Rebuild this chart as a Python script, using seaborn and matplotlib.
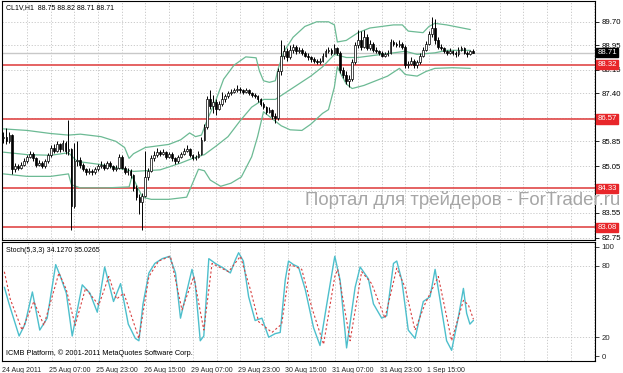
import numpy as np
import pandas as pd
import matplotlib
matplotlib.use("Agg")
import matplotlib.pyplot as plt
import matplotlib.transforms as mtransforms
import seaborn as sns

sns.set_style("white")
plt.rcParams['font.family'] = ['Liberation Sans', 'DejaVu Sans']

# ---------------- data ----------------
open_ = [85.95, 86.00, 85.85, 86.05, 84.95, 85.05, 85.00, 85.10, 85.20, 85.35,
         85.45, 85.30, 85.10, 85.15, 85.05, 85.20, 85.40, 85.65, 85.55, 85.75,
         85.60, 85.80, 85.55, 85.60, 83.75, 85.20, 85.25, 85.10, 84.95, 84.85,
         84.90, 84.85, 84.95, 85.05, 85.10, 85.00, 85.15, 85.05, 84.95, 85.00,
         85.35, 85.00, 84.85, 84.90, 84.75, 84.35, 84.05, 83.90, 84.10, 84.70,
         84.90, 85.30, 85.40, 85.50, 85.45, 85.50, 85.35, 85.45, 85.30, 85.20,
         85.35, 85.45, 85.55, 85.60, 85.40, 85.30, 85.35, 85.45, 85.90, 86.30,
         87.20, 87.00, 87.10, 86.90, 87.05, 87.20, 87.30, 87.40, 87.45, 87.50,
         87.55, 87.50, 87.45, 87.50, 87.40, 87.35, 87.30, 87.20, 87.05, 86.95,
         86.80, 86.85, 86.65, 86.60, 88.10, 88.60, 88.75, 88.55, 88.80, 88.90,
         88.75, 88.80, 88.70, 88.60, 88.55, 88.50, 88.45, 88.40, 88.45, 88.60,
         88.75, 88.80, 88.70, 88.85, 88.70, 88.15, 88.00, 87.80, 87.85, 88.40,
         88.95, 89.10, 88.90, 89.20, 88.85, 89.00, 88.80, 88.75, 88.70, 88.60,
         88.65, 88.70, 89.05, 89.00, 88.95, 89.00, 88.90, 88.30, 88.35, 88.45,
         88.30, 88.40, 88.60, 88.80, 89.00, 89.30, 89.50, 89.10, 88.90, 88.85,
         88.75, 88.70, 88.75, 88.70, 88.65, 88.80, 88.85, 88.70, 88.65, 88.75]
high = [86.15, 86.27, 86.15, 86.10, 85.15, 85.12, 85.18, 85.30, 85.42, 85.55,
        85.50, 85.35, 85.25, 85.20, 85.28, 85.48, 85.72, 85.75, 85.85, 85.80,
        85.88, 85.85, 86.55, 85.65, 85.80, 85.85, 85.35, 85.15, 85.00, 84.98,
        84.95, 85.02, 85.12, 85.20, 85.15, 85.22, 85.20, 85.10, 85.08, 85.45,
        85.40, 85.05, 84.98, 84.95, 84.80, 84.45, 84.15, 84.20, 85.55, 85.00,
        85.40, 85.55, 85.62, 85.58, 85.60, 85.55, 85.52, 85.50, 85.35, 85.42,
        85.52, 85.65, 85.72, 85.65, 85.45, 85.42, 85.55, 85.98, 86.40, 87.30,
        87.50, 87.35, 87.20, 87.15, 87.45, 87.38, 87.48, 87.52, 87.58, 87.65,
        87.60, 87.55, 87.58, 87.55, 87.45, 87.42, 87.35, 87.25, 87.10, 87.00,
        86.95, 86.90, 86.75, 88.20, 89.10, 88.95, 88.85, 88.95, 89.00, 88.95,
        88.88, 88.85, 88.75, 88.68, 88.60, 88.55, 88.50, 88.52, 88.68, 88.82,
        88.90, 88.85, 88.98, 88.90, 88.75, 88.25, 88.10, 88.00, 88.50, 89.05,
        89.45, 89.40, 89.45, 89.30, 89.10, 89.05, 88.88, 88.80, 88.75, 88.72,
        88.80, 89.15, 89.12, 89.05, 89.10, 89.05, 88.95, 88.45, 88.55, 88.50,
        88.48, 88.68, 88.88, 89.08, 89.40, 89.85, 89.80, 89.20, 88.98, 88.90,
        88.80, 88.85, 88.80, 88.75, 88.88, 88.92, 88.90, 88.75, 88.80, 88.82]
low = [85.80, 85.75, 85.80, 84.80, 84.85, 84.92, 84.95, 85.05, 85.15, 85.30,
       85.22, 85.02, 85.05, 84.98, 85.00, 85.15, 85.35, 85.48, 85.50, 85.52,
       85.55, 85.45, 85.40, 83.00, 83.70, 85.05, 85.00, 84.88, 84.78, 84.80,
       84.78, 84.80, 84.90, 85.00, 84.92, 84.95, 84.98, 84.88, 84.90, 84.95,
       84.95, 84.80, 84.78, 84.68, 84.25, 83.95, 83.50, 83.00, 84.05, 84.60,
       84.85, 85.20, 85.35, 85.38, 85.40, 85.28, 85.30, 85.22, 85.12, 85.15,
       85.30, 85.40, 85.50, 85.35, 85.25, 85.25, 85.30, 85.42, 85.85, 86.25,
       86.90, 86.75, 86.70, 86.85, 87.00, 87.10, 87.25, 87.35, 87.40, 87.45,
       87.42, 87.38, 87.40, 87.35, 87.28, 87.25, 87.12, 86.98, 86.88, 86.72,
       86.75, 86.58, 86.45, 86.55, 88.00, 88.50, 88.45, 88.50, 88.70, 88.65,
       88.70, 88.62, 88.55, 88.48, 88.42, 88.38, 88.35, 88.35, 88.40, 88.55,
       88.70, 88.62, 88.65, 88.62, 88.05, 87.90, 87.70, 87.60, 87.80, 88.35,
       88.85, 88.80, 88.85, 88.78, 88.80, 88.72, 88.68, 88.62, 88.55, 88.55,
       88.60, 88.65, 88.92, 88.88, 88.90, 88.82, 88.22, 88.20, 88.30, 88.20,
       88.22, 88.35, 88.55, 88.75, 88.95, 89.20, 89.00, 88.82, 88.78, 88.68,
       88.62, 88.65, 88.62, 88.58, 88.60, 88.75, 88.65, 88.58, 88.62, 88.71]
close = [86.00, 85.85, 86.05, 84.95, 85.05, 85.00, 85.10, 85.20, 85.35, 85.45,
         85.30, 85.10, 85.15, 85.05, 85.20, 85.40, 85.65, 85.55, 85.75, 85.60,
         85.80, 85.55, 85.60, 83.75, 85.20, 85.25, 85.10, 84.95, 84.85, 84.90,
         84.85, 84.95, 85.05, 85.10, 85.00, 85.15, 85.05, 84.95, 85.00, 85.35,
         85.00, 84.85, 84.90, 84.75, 84.35, 84.05, 83.90, 84.10, 84.70, 84.90,
         85.30, 85.40, 85.50, 85.45, 85.50, 85.35, 85.45, 85.30, 85.20, 85.35,
         85.45, 85.55, 85.60, 85.40, 85.30, 85.35, 85.45, 85.90, 86.30, 87.20,
         87.00, 87.10, 86.90, 87.05, 87.20, 87.30, 87.40, 87.45, 87.50, 87.55,
         87.50, 87.45, 87.50, 87.40, 87.35, 87.30, 87.20, 87.05, 86.95, 86.80,
         86.85, 86.65, 86.60, 88.10, 88.60, 88.75, 88.55, 88.80, 88.90, 88.75,
         88.80, 88.70, 88.60, 88.55, 88.50, 88.45, 88.40, 88.45, 88.60, 88.75,
         88.80, 88.70, 88.85, 88.70, 88.15, 88.00, 87.80, 87.85, 88.40, 88.95,
         89.10, 88.90, 89.20, 88.85, 89.00, 88.80, 88.75, 88.70, 88.60, 88.65,
         88.70, 89.05, 89.00, 88.95, 89.00, 88.90, 88.30, 88.35, 88.45, 88.30,
         88.40, 88.60, 88.80, 89.00, 89.30, 89.50, 89.10, 88.90, 88.85, 88.75,
         88.70, 88.75, 88.70, 88.65, 88.80, 88.85, 88.70, 88.65, 88.75, 88.71]

# Bollinger bands (20, 2), read at sample bars
bb_up_bar = [0, 8, 16, 22, 26, 33, 38, 41, 42.5, 44, 48, 56, 60, 63, 65, 67, 69, 72,
             74.5, 78, 82, 85.5, 86.6, 88, 90, 92, 93, 95, 98, 102, 106, 110, 112,
             113, 116, 120, 124, 128, 132, 135, 137, 142, 144, 146, 150, 158]
bb_up = [86.25, 86.20, 86.10, 86.05, 86.08, 86.00, 85.85, 85.65, 85.30, 85.45, 85.65,
         85.75, 85.90, 86.12, 86.00, 86.05, 86.55, 87.20, 87.85, 88.30, 88.57, 88.54,
         88.12, 87.80, 87.75, 87.80, 88.20, 88.75, 89.20, 89.55, 89.70, 89.70, 89.60,
         89.05, 89.10, 89.35, 89.50, 89.55, 89.60, 89.60, 89.40, 89.35, 89.55, 89.65,
         89.60, 89.45]
bb_mid_bar = [0, 8, 16, 22, 25, 33, 44, 53, 60, 64, 68, 72, 76, 80, 84, 88, 92, 96,
              100, 104, 108, 112, 116, 120, 128, 136, 140, 146, 150, 158]
bb_mid = [85.50, 85.42, 85.40, 85.48, 85.20, 85.10, 84.88, 84.93, 85.15, 85.30, 85.42,
          85.70, 86.00, 86.50, 86.95, 87.20, 87.20, 87.45, 87.70, 87.95, 88.25, 88.65,
          88.55, 88.55, 88.65, 88.75, 88.65, 88.70, 88.78, 88.78]
bb_low_bar = [0, 8, 16, 22, 23, 26, 35, 42.5, 43.5, 45, 47, 50, 56, 62, 64, 66, 68,
              70, 73.5, 77, 80.5, 84, 86, 88, 90, 92, 94, 97, 101, 104, 108, 110, 112,
              113, 114, 116, 118, 122, 126, 130, 134, 136, 140, 143, 146, 152, 158]
bb_low = [84.80, 84.72, 84.72, 84.80, 84.45, 84.35, 84.35, 84.38, 84.72, 84.45, 84.05,
          83.98, 83.98, 84.05, 84.50, 84.95, 84.90, 84.60, 84.40, 84.50, 84.70, 85.35,
          86.00, 86.80, 86.65, 86.50, 86.35, 86.22, 86.20, 86.40, 86.75, 86.87, 87.60,
          88.25, 88.05, 87.70, 87.55, 87.65, 87.80, 87.95, 88.20, 88.00, 87.95, 88.10,
          88.20, 88.22, 88.20]

# Stochastic (5,3,3)
stk_bar = [0, 1.6, 5, 7, 9.5, 12, 14.5, 17.4, 19, 21, 23, 26.4, 29, 31.5, 34, 37,
           39.4, 42, 44.4, 45.6, 47, 49, 51, 53.5, 56, 58, 59.7, 61.4, 63.6, 64.7,
           66.4, 67.6, 69.3, 71.5, 74.3, 76.6, 78.3, 79.4, 81, 82.8, 85, 87.3, 89.6,
           91.8, 93.5, 95.2, 96.3, 98, 99.7, 102, 104.8, 107, 109.3, 112, 113.8, 116,
           118.9, 120.6, 123.4, 125.1, 127.9, 129.6, 131.9, 133, 134.7, 136.9, 139.2,
           142, 144.3, 146, 147.7, 149.9, 151.6, 153.9, 155.6, 156.7, 157.8, 159]
stk_k = [62, 48, 21, 31, 58, 26, 36, 81, 71, 57, 21, 64, 57, 41, 79, 50, 65, 31, 19,
         17, 48, 74, 82, 86, 88, 74, 36, 54, 77, 65, 17, 21, 86, 82, 78, 74, 85, 91,
         84, 54, 34, 36, 20, 23, 24, 68, 84, 81, 79, 60, 28, 13, 48, 88, 68, 11, 62,
         79, 69, 48, 36, 38, 82, 84, 68, 26, 19, 50, 54, 77, 51, 17, 9, 37, 61, 40,
         31, 34.13]
std_bar = [0, 2, 6, 10, 13.4, 18.5, 21, 24, 27.5, 32, 35.4, 38, 40.5, 45.6, 49, 52.3,
           56.3, 60.2, 64.2, 67.6, 70.4, 76, 80, 83.4, 86.2, 90.7, 94, 96.9, 100.8,
           104.2, 108.2, 112, 113, 117.2, 121.1, 124.5, 129, 133, 135.8, 139.2, 142.6,
           147.1, 151.6, 155.6, 157.3, 159]
std_d = [75, 52, 26, 50, 30, 74, 60, 30, 61, 47, 71, 52, 57, 19, 71, 84, 88, 43, 71,
         26, 82, 75, 88, 60, 33, 24, 31, 81, 77, 45, 14, 71, 77, 17, 75, 65, 36, 78,
         62, 26, 48, 71, 17, 51, 47, 35.03]

time_labels = ["24 Aug 2011", "25 Aug 07:00", "25 Aug 23:00", "26 Aug 15:00",
               "29 Aug 07:00", "29 Aug 23:00", "30 Aug 15:00", "31 Aug 07:00",
               "31 Aug 23:00", "1 Sep 15:00"]
time_label_bars = [0, 16, 32, 48, 64, 80, 96, 112, 128, 144]

price_ticks = [89.70, 88.95, 88.15, 87.40, 86.60, 85.85, 85.05, 84.25, 83.55, 82.75]
price_tick_labels = ["89.70", "88.95", "88.15", "87.40", "", "85.85", "85.05", "",
                     "83.55", "82.75"]
level_lines = [88.32, 86.57, 84.33, 83.08]
last_price = 88.71

# ---------------- figure ----------------
W, H = 623, 373
fig = plt.figure(figsize=(W / 100, H / 100), dpi=100)
fig.patch.set_facecolor("white")
ax = fig.add_axes([2 / W, 1 - 240 / H, 593 / W, 239 / H])
ax2 = fig.add_axes([2 / W, 1 - 361 / H, 593 / W, 119 / H])

n = len(close)
bars = np.arange(n)
xlim = (-0.5, 200.2)

grid_kw = dict(color="#c4c4c4", lw=0.6, linestyle=(0, (1.5, 2.0)), zorder=0)
vgrid = np.arange(8, 201, 8)

# main panel
ax.set_xlim(*xlim)
ax.set_ylim(82.67, 90.37)
for v in vgrid:
    ax.axvline(v, **grid_kw)
for p in price_ticks:
    ax.axhline(p, **grid_kw)

ax.axhline(last_price, color="#c8c8c8", lw=1.0, zorder=1)
for lv in level_lines:
    ax.axhline(lv, color="#e04848", lw=1.2, zorder=1)

grn = "#6cba94"
sns.lineplot(x=bb_up_bar, y=bb_up, ax=ax, color=grn, lw=0.9, zorder=2)
sns.lineplot(x=bb_mid_bar, y=bb_mid, ax=ax, color=grn, lw=0.9, zorder=2)
sns.lineplot(x=bb_low_bar, y=bb_low, ax=ax, color=grn, lw=0.9, zorder=2)

o = np.array(open_); c = np.array(close); h = np.array(high); l = np.array(low)
ax.vlines(bars, l, h, color="black", lw=0.7, zorder=3)
bottom = np.minimum(o, c)
height = np.maximum(np.abs(c - o), 0.015)
bull = c >= o
ax.bar(bars[bull], height[bull], bottom=bottom[bull], width=0.6, color="white",
       edgecolor="black", linewidth=0.5, zorder=4)
ax.bar(bars[~bull], height[~bull], bottom=bottom[~bull], width=0.6, color="black",
       edgecolor="black", linewidth=0.5, zorder=4)

ax.yaxis.tick_right()
ax.set_yticks(price_ticks)
ax.set_yticklabels(price_tick_labels)
ax.tick_params(axis="y", length=3, width=0.6, labelsize=5.6, pad=1.5, colors="black")
ax.set_xticks([])
for s in ax.spines.values():
    s.set_color("black"); s.set_linewidth(0.8)

tr = mtransforms.blended_transform_factory(ax.transAxes, ax.transData)
for lv in level_lines:
    ax.text(1.004, lv, f"{lv:.2f}", transform=tr, ha="left", va="center",
            fontsize=5.6, color="white", zorder=10, clip_on=False,
            bbox=dict(boxstyle="square,pad=0.15", facecolor="#e8262a", edgecolor="#e8262a"))
ax.text(1.004, last_price, f"{last_price:.2f}", transform=tr, ha="left", va="center",
        fontsize=5.6, color="white", zorder=10, clip_on=False,
        bbox=dict(boxstyle="square,pad=0.15", facecolor="black", edgecolor="black"))

ax.text(4 / 593, 1 - 7 / 239, "CL1V,H1  88.75 88.82 88.71 88.71", transform=ax.transAxes,
        ha="left", va="center", fontsize=5.0, color="black")

# stochastic panel
ax2.set_xlim(*xlim)
ax2.set_ylim(0, 100)
for v in vgrid:
    ax2.axvline(v, **grid_kw)
for lv in (20, 80):
    ax2.axhline(lv, **grid_kw)
sns.lineplot(x=stk_bar, y=stk_k, ax=ax2, color="#4dbfcc", lw=1.0, zorder=3)
sns.lineplot(x=std_bar, y=std_d, ax=ax2, color="#d84040", lw=0.8, zorder=4,
             linestyle=(0, (2.0, 2.0)))
ax2.yaxis.tick_right()
ax2.set_yticks([4, 20, 80, 96])
ax2.set_yticklabels(["0", "20", "80", "100"])
ax2.tick_params(axis="y", length=3, width=0.6, labelsize=5.6, pad=1.5)
ax2.set_xticks([b - 0.8 for b in time_label_bars])
ax2.set_xticklabels(time_labels, ha="left")
ax2.tick_params(axis="x", length=3, width=0.6, labelsize=5.0, pad=1.0)
for s in ax2.spines.values():
    s.set_color("black"); s.set_linewidth(0.8)
ax2.text(4 / 593, 1 - 8 / 119, "Stoch(5,3,3) 34.1270 35.0265", transform=ax2.transAxes,
         ha="left", va="center", fontsize=5.0, color="black")
ax2.text(4 / 593, 8 / 119, "ICMB Platform, \u00a9 2001-2011 MetaQuotes Software Corp.",
         transform=ax2.transAxes, ha="left", va="center", fontsize=5.3, color="black")
ax.set_xlabel(""); ax.set_ylabel(""); ax2.set_xlabel(""); ax2.set_ylabel("")

fig.text(305 / W, 1 - 205 / H, "Портал для трейдеров - ForTrader.ru", fontsize=13.4,
         color="#a6a6a6", ha="left", va="baseline")

fig.savefig("out.png", dpi=100, facecolor="white")
